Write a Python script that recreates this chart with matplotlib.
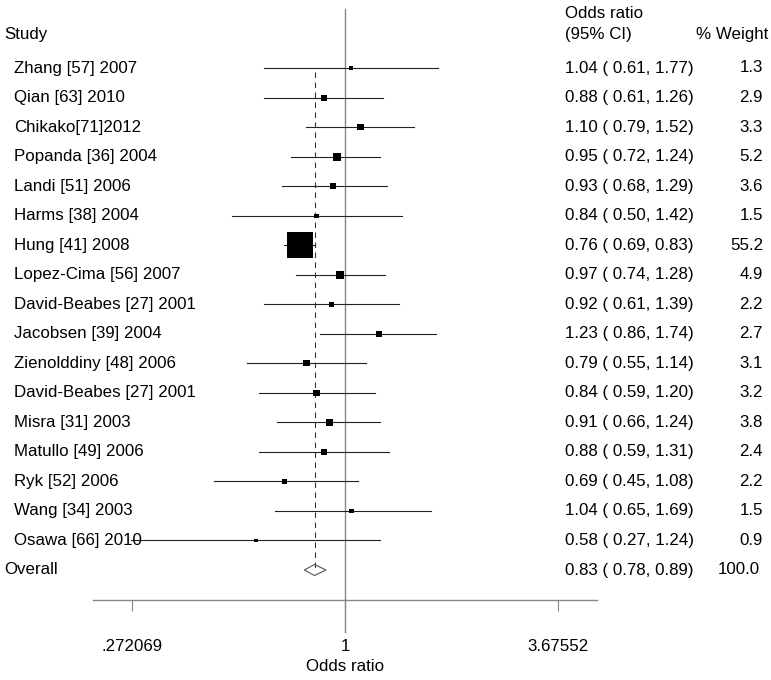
import matplotlib
matplotlib.use("Agg")
import matplotlib.pyplot as plt
import numpy as np
from matplotlib.patches import Polygon

plt.rcParams['font.family'] = ['Liberation Sans', 'DejaVu Sans']

studies = ["Zhang [57] 2007", "Qian [63] 2010", "Chikako[71]2012", "Popanda [36] 2004",
           "Landi [51] 2006", "Harms [38] 2004", "Hung [41] 2008", "Lopez-Cima [56] 2007",
           "David-Beabes [27] 2001", "Jacobsen [39] 2004", "Zienolddiny [48] 2006",
           "David-Beabes [27] 2001", "Misra [31] 2003", "Matullo [49] 2006", "Ryk [52] 2006",
           "Wang [34] 2003", "Osawa [66] 2010"]
odds = [1.04, 0.88, 1.10, 0.95, 0.93, 0.84, 0.76, 0.97, 0.92, 1.23, 0.79, 0.84, 0.91, 0.88, 0.69, 1.04, 0.58]
lower = [0.61, 0.61, 0.79, 0.72, 0.68, 0.50, 0.69, 0.74, 0.61, 0.86, 0.55, 0.59, 0.66, 0.59, 0.45, 0.65, 0.27]
upper = [1.77, 1.26, 1.52, 1.24, 1.29, 1.42, 0.83, 1.28, 1.39, 1.74, 1.14, 1.20, 1.24, 1.31, 1.08, 1.69, 1.24]
weights = [1.3, 2.9, 3.3, 5.2, 3.6, 1.5, 55.2, 4.9, 2.2, 2.7, 3.1, 3.2, 3.8, 2.4, 2.2, 1.5, 0.9]
overall = (0.83, 0.78, 0.89, 100.0)
tick_vals = [0.272069, 1.0, 3.67552]
tick_labels = [".272069", "1", "3.67552"]

W, H = 771, 680
fig = plt.figure(figsize=(W / 100, H / 100), dpi=100)

# axes geometry in pixels
ax_l, ax_r = 93, 597
ax_t, ax_b = 9, 600
ax = fig.add_axes([ax_l / W, (H - ax_b) / H, (ax_r - ax_l) / W, (ax_b - ax_t) / H])
ax.set_xscale('log')
ax.set_xlim(np.exp(-1.54), np.exp(1.54))
row_px = (570 - 68) / 17.0
y_top = (ax_t - 68) / row_px
y_bot = (ax_b - 68) / row_px
ax.set_ylim(y_bot, y_top)

n = len(studies)
rows = np.arange(n)
fs = 12.2

# CI lines and boxes
for i in range(n):
    ax.plot([lower[i], upper[i]], [i, i], color='#222222', lw=0.8, zorder=2)
side_px = 26 * np.sqrt(np.array(weights) / 55.2)
ax.scatter(odds, rows, marker='s', s=(side_px * 0.72) ** 2, color='black', zorder=3, linewidths=0)

# reference line at 1
ax.plot([1, 1], [y_top, y_bot + 32 / row_px], color='#888888', lw=1.0, clip_on=False, zorder=1)
# overall dashed line
ax.plot([overall[0], overall[0]], [0.15, n], color='#333333', lw=0.8, ls=(0, (5, 4)), zorder=1)
# diamond
h = 5.5 / row_px
diamond = Polygon([(overall[1], n), (overall[0], n - h), (overall[2], n), (overall[0], n + h)],
                  closed=True, fill=False, edgecolor='#555555', lw=0.8, zorder=3)
ax.add_patch(diamond)

for s in ['top', 'right', 'left']:
    ax.spines[s].set_visible(False)
ax.spines['bottom'].set_color('#888888')
ax.spines['bottom'].set_linewidth(1.0)
ax.set_yticks([])
ax.set_xticks(tick_vals)
ax.set_xticklabels(tick_labels, fontsize=fs)
ax.xaxis.set_minor_locator(matplotlib.ticker.NullLocator())
ax.tick_params(axis='x', direction='out', length=8, width=0.8, color='#888888', pad=20)
ax.set_xlabel("Odds ratio", fontsize=fs, labelpad=4)

# text columns (figure pixel coords via transform)
def fy(row):
    return 68 + row * row_px

def put(x, y, s, ha='left'):
    fig.text(x / W, 1 - y / H, s, ha=ha, va='center', fontsize=fs)

put(4, 34, "Study")
put(565, 14, "Odds ratio")
put(565, 35, "(95% CI)")
put(768, 35, "% Weight", ha='right')

for i in range(n):
    put(14, fy(i), studies[i])
    put(565, fy(i), f"{odds[i]:.2f} ( {lower[i]:.2f}, {upper[i]:.2f})")
    put(763, fy(i), f"{weights[i]:.1f}", ha='right')

put(4, fy(n), "Overall")
put(565, fy(n), f"{overall[0]:.2f} ( {overall[1]:.2f}, {overall[2]:.2f})")
put(760, fy(n), f"{overall[3]:.1f}", ha='right')

fig.savefig("out.png", dpi=100)
